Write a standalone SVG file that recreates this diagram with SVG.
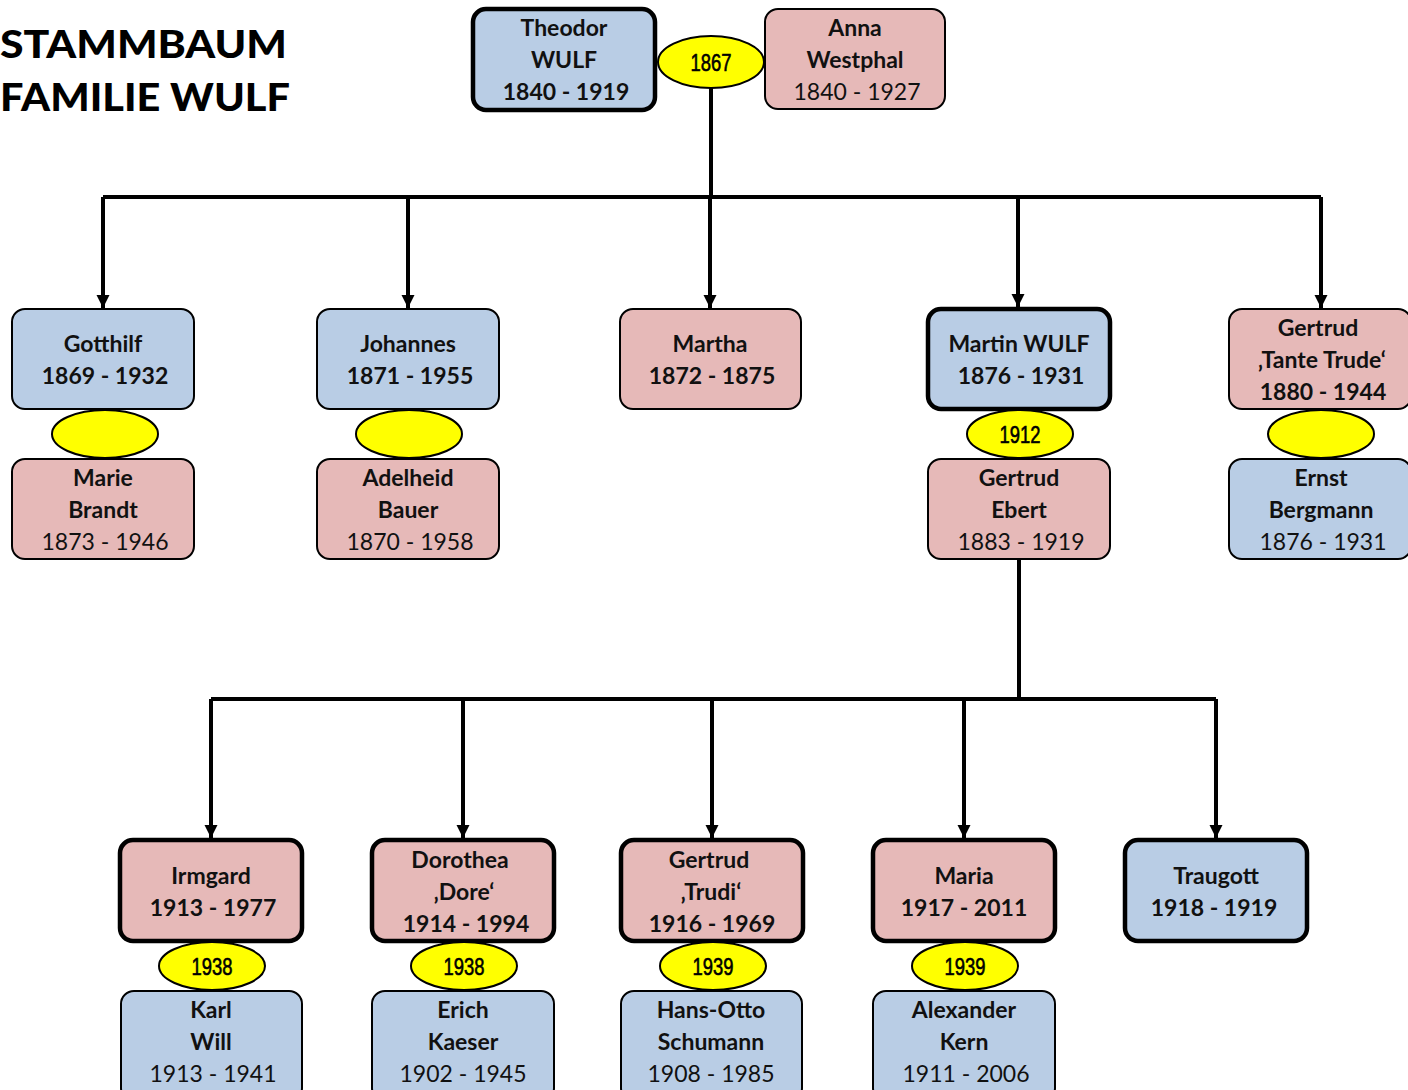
<svg xmlns="http://www.w3.org/2000/svg" width="1408" height="1090" viewBox="0 0 1408 1090">
<style>
.b{fill:#B9CDE5;stroke:#000;stroke-width:2}
.p{fill:#E6B9B8;stroke:#000;stroke-width:2}
.k{stroke-width:4.5}
.o{fill:#FFFF00;stroke:#000;stroke-width:2}
.t{font-family:Lato,"Open Sans",sans-serif;font-size:23px;text-anchor:middle;fill:#111}
.n{font-weight:bold}
.y{font-family:"Liberation Sans","Arial",sans-serif;font-size:24px;text-anchor:middle;fill:#000;stroke:#000;stroke-width:0.6}
.title{font-family:Lato,"DejaVu Sans",sans-serif;font-weight:900;font-size:38px;fill:#000}
.c{fill:none;stroke:#000;stroke-width:4}
</style>
<defs>
<marker id="ah" viewBox="0 0 10 10" refX="10" refY="5" markerWidth="3.4" markerHeight="3.3" orient="auto" markerUnits="strokeWidth">
<path d="M0,0 L10,5 L0,10 z" fill="#000"/>
</marker>
</defs>
<rect width="1408" height="1090" fill="#fff"/>
<g id="title">
<text class="title" x="0" y="58" textLength="287" lengthAdjust="spacingAndGlyphs">STAMMBAUM</text>
<text class="title" x="0" y="111" textLength="290" lengthAdjust="spacingAndGlyphs">FAMILIE WULF</text>
</g>
<g id="connectors">
<path class="c" d="M711,88 V197"/>
<path class="c" d="M103,197 H1321"/>
<path class="c" d="M103,197 V308" marker-end="url(#ah)"/>
<path class="c" d="M408,197 V308" marker-end="url(#ah)"/>
<path class="c" d="M710,197 V308" marker-end="url(#ah)"/>
<path class="c" d="M1018,197 V307" marker-end="url(#ah)"/>
<path class="c" d="M1321,197 V308" marker-end="url(#ah)"/>
<path class="c" d="M1019,559 V699"/>
<path class="c" d="M211,699 H1216"/>
<path class="c" d="M211,699 V838" marker-end="url(#ah)"/>
<path class="c" d="M463,699 V838" marker-end="url(#ah)"/>
<path class="c" d="M712,699 V838" marker-end="url(#ah)"/>
<path class="c" d="M964,699 V838" marker-end="url(#ah)"/>
<path class="c" d="M1216,699 V838" marker-end="url(#ah)"/>
</g>
<g id="theodor"><rect class="b k" x="473" y="9" width="182" height="101" rx="13"/>
<text class="t n" x="564" y="36">Theodor</text><text class="t n" x="564" y="68">WULF</text><text class="t n" x="566" y="100">1840 - 1919</text></g>
<g id="anna"><rect class="p" x="765" y="9" width="180" height="100" rx="13"/>
<text class="t n" x="855" y="36">Anna</text><text class="t n" x="855" y="68">Westphal</text><text class="t" x="857" y="100">1840 - 1927</text></g>
<g id="m1867"><ellipse class="o" cx="711" cy="62" rx="53" ry="26"/><text class="y" x="711" y="71" textLength="41" lengthAdjust="spacingAndGlyphs">1867</text></g>

<g id="gotthilf"><rect class="b" x="12" y="309" width="182" height="100" rx="13"/>
<text class="t n" x="103" y="352">Gotthilf</text><text class="t n" x="105" y="384">1869 - 1932</text></g>
<g id="m-gotthilf"><ellipse class="o" cx="105" cy="434" rx="53" ry="24"/></g>
<g id="marie"><rect class="p" x="12" y="459" width="182" height="100" rx="13"/>
<text class="t n" x="103" y="486">Marie</text><text class="t n" x="103" y="518">Brandt</text><text class="t" x="105" y="550">1873 - 1946</text></g>

<g id="johannes"><rect class="b" x="317" y="309" width="182" height="100" rx="13"/>
<text class="t n" x="408" y="352">Johannes</text><text class="t n" x="410" y="384">1871 - 1955</text></g>
<g id="m-johannes"><ellipse class="o" cx="409" cy="434" rx="53" ry="24"/></g>
<g id="adelheid"><rect class="p" x="317" y="459" width="182" height="100" rx="13"/>
<text class="t n" x="408" y="486">Adelheid</text><text class="t n" x="408" y="518">Bauer</text><text class="t" x="410" y="550">1870 - 1958</text></g>

<g id="martha"><rect class="p" x="620" y="309" width="181" height="100" rx="13"/>
<text class="t n" x="710" y="352">Martha</text><text class="t n" x="712" y="384">1872 - 1875</text></g>

<g id="martin"><rect class="b k" x="928" y="309" width="182" height="100" rx="13"/>
<text class="t n" x="1019" y="352">Martin WULF</text><text class="t n" x="1021" y="384">1876 - 1931</text></g>
<g id="m1912"><ellipse class="o" cx="1020" cy="434" rx="53" ry="24"/><text class="y" x="1020" y="443" textLength="41" lengthAdjust="spacingAndGlyphs">1912</text></g>
<g id="gertrud-ebert"><rect class="p" x="928" y="459" width="182" height="100" rx="13"/>
<text class="t n" x="1019" y="486">Gertrud</text><text class="t n" x="1019" y="518">Ebert</text><text class="t" x="1021" y="550">1883 - 1919</text></g>

<g id="gertrud-tante"><rect class="p" x="1229" y="309" width="182" height="100" rx="13"/>
<text class="t n" x="1318" y="336">Gertrud</text><text class="t n" x="1322" y="368">‚Tante Trude‘</text><text class="t n" x="1323" y="400">1880 - 1944</text></g>
<g id="m-gertrud"><ellipse class="o" cx="1321" cy="434" rx="53" ry="24"/></g>
<g id="ernst"><rect class="b" x="1229" y="459" width="182" height="100" rx="13"/>
<text class="t n" x="1321" y="486">Ernst</text><text class="t n" x="1321" y="518">Bergmann</text><text class="t" x="1323" y="550">1876 - 1931</text></g>

<g id="irmgard"><rect class="p k" x="120" y="840" width="182" height="101" rx="13"/>
<text class="t n" x="211" y="884">Irmgard</text><text class="t n" x="213" y="916">1913 - 1977</text></g>
<g id="m-irmgard"><ellipse class="o" cx="212" cy="966" rx="53" ry="24"/><text class="y" x="212" y="975" textLength="41" lengthAdjust="spacingAndGlyphs">1938</text></g>
<g id="karl"><rect class="b" x="121" y="991" width="181" height="110" rx="13"/>
<text class="t n" x="211" y="1018">Karl</text><text class="t n" x="211" y="1050">Will</text><text class="t" x="213" y="1082">1913 - 1941</text></g>

<g id="dorothea"><rect class="p k" x="372" y="840" width="182" height="101" rx="13"/>
<text class="t n" x="460" y="868">Dorothea</text><text class="t n" x="464" y="900">‚Dore‘</text><text class="t n" x="466" y="932">1914 - 1994</text></g>
<g id="m-dorothea"><ellipse class="o" cx="464" cy="966" rx="53" ry="24"/><text class="y" x="464" y="975" textLength="41" lengthAdjust="spacingAndGlyphs">1938</text></g>
<g id="erich"><rect class="b" x="372" y="991" width="182" height="110" rx="13"/>
<text class="t n" x="463" y="1018">Erich</text><text class="t n" x="463" y="1050">Kaeser</text><text class="t" x="463" y="1082">1902 - 1945</text></g>

<g id="gertrud-trudi"><rect class="p k" x="621" y="840" width="182" height="101" rx="13"/>
<text class="t n" x="709" y="868">Gertrud</text><text class="t n" x="711" y="900">‚Trudi‘</text><text class="t n" x="712" y="932">1916 - 1969</text></g>
<g id="m-trudi"><ellipse class="o" cx="713" cy="966" rx="53" ry="24"/><text class="y" x="713" y="975" textLength="41" lengthAdjust="spacingAndGlyphs">1939</text></g>
<g id="hans-otto"><rect class="b" x="621" y="991" width="181" height="110" rx="13"/>
<text class="t n" x="711" y="1018">Hans-Otto</text><text class="t n" x="711" y="1050">Schumann</text><text class="t" x="711" y="1082">1908 - 1985</text></g>

<g id="maria"><rect class="p k" x="873" y="840" width="182" height="101" rx="13"/>
<text class="t n" x="964" y="884">Maria</text><text class="t n" x="964" y="916">1917 - 2011</text></g>
<g id="m-maria"><ellipse class="o" cx="965" cy="966" rx="53" ry="24"/><text class="y" x="965" y="975" textLength="41" lengthAdjust="spacingAndGlyphs">1939</text></g>
<g id="alexander"><rect class="b" x="873" y="991" width="182" height="110" rx="13"/>
<text class="t n" x="964" y="1018">Alexander</text><text class="t n" x="964" y="1050">Kern</text><text class="t" x="966" y="1082">1911 - 2006</text></g>

<g id="traugott"><rect class="b k" x="1125" y="840" width="182" height="101" rx="13"/>
<text class="t n" x="1216" y="884">Traugott</text><text class="t n" x="1214" y="916">1918 - 1919</text></g>
</svg>
